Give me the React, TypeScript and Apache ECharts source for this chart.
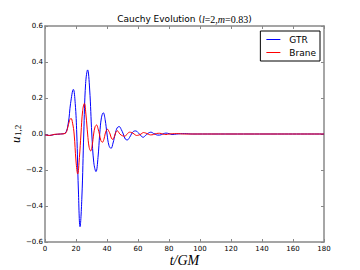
import React, { useEffect, useRef } from "react";
import * as echarts from "echarts";

const gtrT = [0, 3, 6, 10, 13, 15, 16.5, 18.3, 19.5, 20.5, 21.5, 22.6, 23.8, 25, 26.2, 27.5, 28.8, 30.2, 31.5, 32.9, 34.2, 35.3, 36.4, 37.6, 38.8, 40, 41.3, 42.6, 43.9, 45.3, 46.6, 47.9, 49.2, 50.5, 51.8, 53.1, 54.5, 55.8, 57.2, 58.5, 60, 61, 62.2, 63.4, 64.8, 66, 67.3, 68.5, 70, 71, 72.5, 74, 76, 78, 80, 82, 85, 90, 95, 120, 150, 180];
const gtrV = [-0.005, -0.008, -0.003, 0.0, 0.005, 0.06, 0.17, 0.248, 0.17, 0.0, -0.3, -0.515, -0.35, 0.0, 0.28, 0.356, 0.25, 0.0, -0.16, -0.209, -0.13, 0.0, 0.09, 0.118, 0.08, 0.0, -0.065, -0.08, -0.05, 0.0, 0.035, 0.041, 0.025, 0.0, -0.028, -0.033, -0.02, 0.0, 0.015, 0.017, 0.008, 0.0, -0.013, -0.018, -0.008, 0.0, 0.008, 0.01, 0.003, 0.0, -0.006, -0.006, 0.0, 0.005, 0.002, -0.003, 0.0, 0.002, 0.0, 0.0, 0.0, 0.0];

const braneT = [0, 3, 6, 10, 13, 14.5, 15.8, 16.8, 17.8, 18.8, 20, 21.1, 22.2, 23.2, 24.3, 25.4, 26.5, 27.5, 28.5, 29.5, 30.5, 31.4, 32.3, 33.3, 34.2, 35.1, 36, 37, 38, 38.8, 39.6, 40.4, 41.2, 42, 42.8, 43.7, 44.5, 45.3, 46, 46.7, 47.5, 48.3, 50, 51.5, 53, 54.5, 56, 57.5, 59, 60.5, 62, 63.5, 65, 66.5, 68, 70, 72, 74, 76, 78, 80, 85, 90, 120, 150, 180];
const braneV = [-0.005, -0.008, -0.002, 0.0, 0.003, 0.03, 0.075, 0.087, 0.06, 0.0, -0.15, -0.222, -0.13, 0.0, 0.13, 0.17, 0.1, 0.0, -0.075, -0.094, -0.06, 0.0, 0.04, 0.05, 0.03, 0.0, -0.035, -0.046, -0.03, 0.0, 0.02, 0.026, 0.015, 0.0, -0.022, -0.03, -0.02, 0.0, 0.014, 0.018, 0.01, 0.0, -0.01, -0.012, 0.0, 0.01, 0.008, 0.0, -0.008, -0.006, 0.0, 0.008, 0.005, 0.0, -0.005, -0.003, 0.003, 0.004, 0.0, -0.003, 0.0, 0.002, 0.0, 0.0, 0.0, 0.0];

const seriesNames = ["GTR", "Brane"];
const xRange = [0, 180, 20];
const yRange = [-0.6, 0.6, 0.2];

const FRAME = "#888888";
const SANS = "DejaVu Sans";
const SERIF = "Liberation Serif";

export default function App() {
  const ref = useRef<HTMLDivElement>(null);
  useEffect(() => {
    if (!ref.current) return;
    const chart = echarts.init(ref.current, null, { renderer: "svg" });
    const fmtY = (v: number) => {
      const s = Math.abs(v).toFixed(1);
      return v < -1e-9 ? "\u2212" + s : s;
    };
    const axisCommon = {
      axisLine: { show: true, onZero: false, lineStyle: { color: FRAME, width: 1.5 } },
      axisTick: { show: true, inside: true, length: 3, lineStyle: { color: FRAME, width: 1 } },
      splitLine: { show: false },
    };
    chart.setOption({
      animation: false,
      backgroundColor: "#ffffff",
      title: {
        text: "Cauchy Evolution ({i|l}{n|=2,}{i|m}{n|=0.83})",
        left: 184.5,
        textAlign: "center",
        top: 14,
        padding: 0,
        textStyle: {
          fontFamily: SANS,
          fontSize: 9,
          fontWeight: "normal",
          color: "#000",
          rich: {
            i: { fontFamily: SERIF, fontStyle: "italic", fontSize: 10, color: "#000" },
            n: { fontFamily: SERIF, fontSize: 10, color: "#000" },
          },
        },
      },
      legend: {
        data: seriesNames.map((n) => ({ name: n, icon: "rect" })),
        orient: "vertical",
        right: 40,
        top: 31,
        padding: [3, 4, 3, 6],
        itemWidth: 14,
        itemHeight: 1,
        itemGap: 2,
        borderColor: "#000",
        borderWidth: 1,
        borderRadius: 0,
        backgroundColor: "#fff",
        textStyle: { fontFamily: SANS, fontSize: 9, color: "#000", padding: [0, 0, 0, 4], lineHeight: 11 },
      },
      grid: { left: 45, right: 36, top: 26, bottom: 28, containLabel: false },
      xAxis: [
        {
          type: "value",
          min: xRange[0],
          max: xRange[1],
          interval: xRange[2],
          position: "bottom",
          ...axisCommon,
          axisLabel: { fontFamily: SANS, fontSize: 7, color: "#000", margin: 3 },
        },
        {
          type: "value",
          min: xRange[0],
          max: xRange[1],
          interval: xRange[2],
          position: "top",
          ...axisCommon,
          axisLabel: { show: false },
        },
      ],
      yAxis: [
        {
          type: "value",
          min: yRange[0],
          max: yRange[1],
          interval: yRange[2],
          position: "left",
          ...axisCommon,
          axisLabel: { fontFamily: SANS, fontSize: 7, color: "#000", margin: 2, formatter: fmtY },
        },
        {
          type: "value",
          min: yRange[0],
          max: yRange[1],
          interval: yRange[2],
          position: "right",
          ...axisCommon,
          axisLabel: { show: false },
        },
      ],
      graphic: [
        {
          type: "text",
          x: 184.5,
          y: 260,
          style: {
            text: "t/GM",
            font: `italic 14px "${SERIF}"`,
            fill: "#000",
            textAlign: "center",
            textVerticalAlign: "middle",
          },
        },
        {
          type: "group",
          x: 15,
          y: 134,
          rotation: Math.PI / 2,
          children: [
            {
              type: "text",
              x: -9,
              y: 0,
              style: {
                text: "u",
                font: `italic 13px "${SERIF}"`,
                fill: "#000",
                textAlign: "left",
                textVerticalAlign: "middle",
              },
            },
            {
              type: "text",
              x: -2,
              y: 3,
              style: {
                text: "1,2",
                font: `9px "${SERIF}"`,
                fill: "#000",
                textAlign: "left",
                textVerticalAlign: "middle",
              },
            },
          ],
        },
      ],
      series: [
        {
          name: seriesNames[0],
          type: "line",
          xAxisIndex: 0,
          yAxisIndex: 0,
          data: gtrT.map((t, i) => [t, gtrV[i]]),
          smooth: 0.4,
          symbol: "none",
          lineStyle: { color: "#0000ff", width: 1 },
          itemStyle: { color: "#0000ff" },
          z: 2,
        },
        {
          name: seriesNames[1],
          type: "line",
          xAxisIndex: 0,
          yAxisIndex: 0,
          data: braneT.map((t, i) => [t, braneV[i]]),
          smooth: 0.4,
          symbol: "none",
          lineStyle: { color: "#ff0000", width: 1 },
          itemStyle: { color: "#ff0000" },
          z: 3,
        },
      ],
    });
    return () => chart.dispose();
  }, []);
  return <div ref={ref} style={{ width: 360, height: 270, position: "absolute", left: 0, top: 0 }} />;
}
